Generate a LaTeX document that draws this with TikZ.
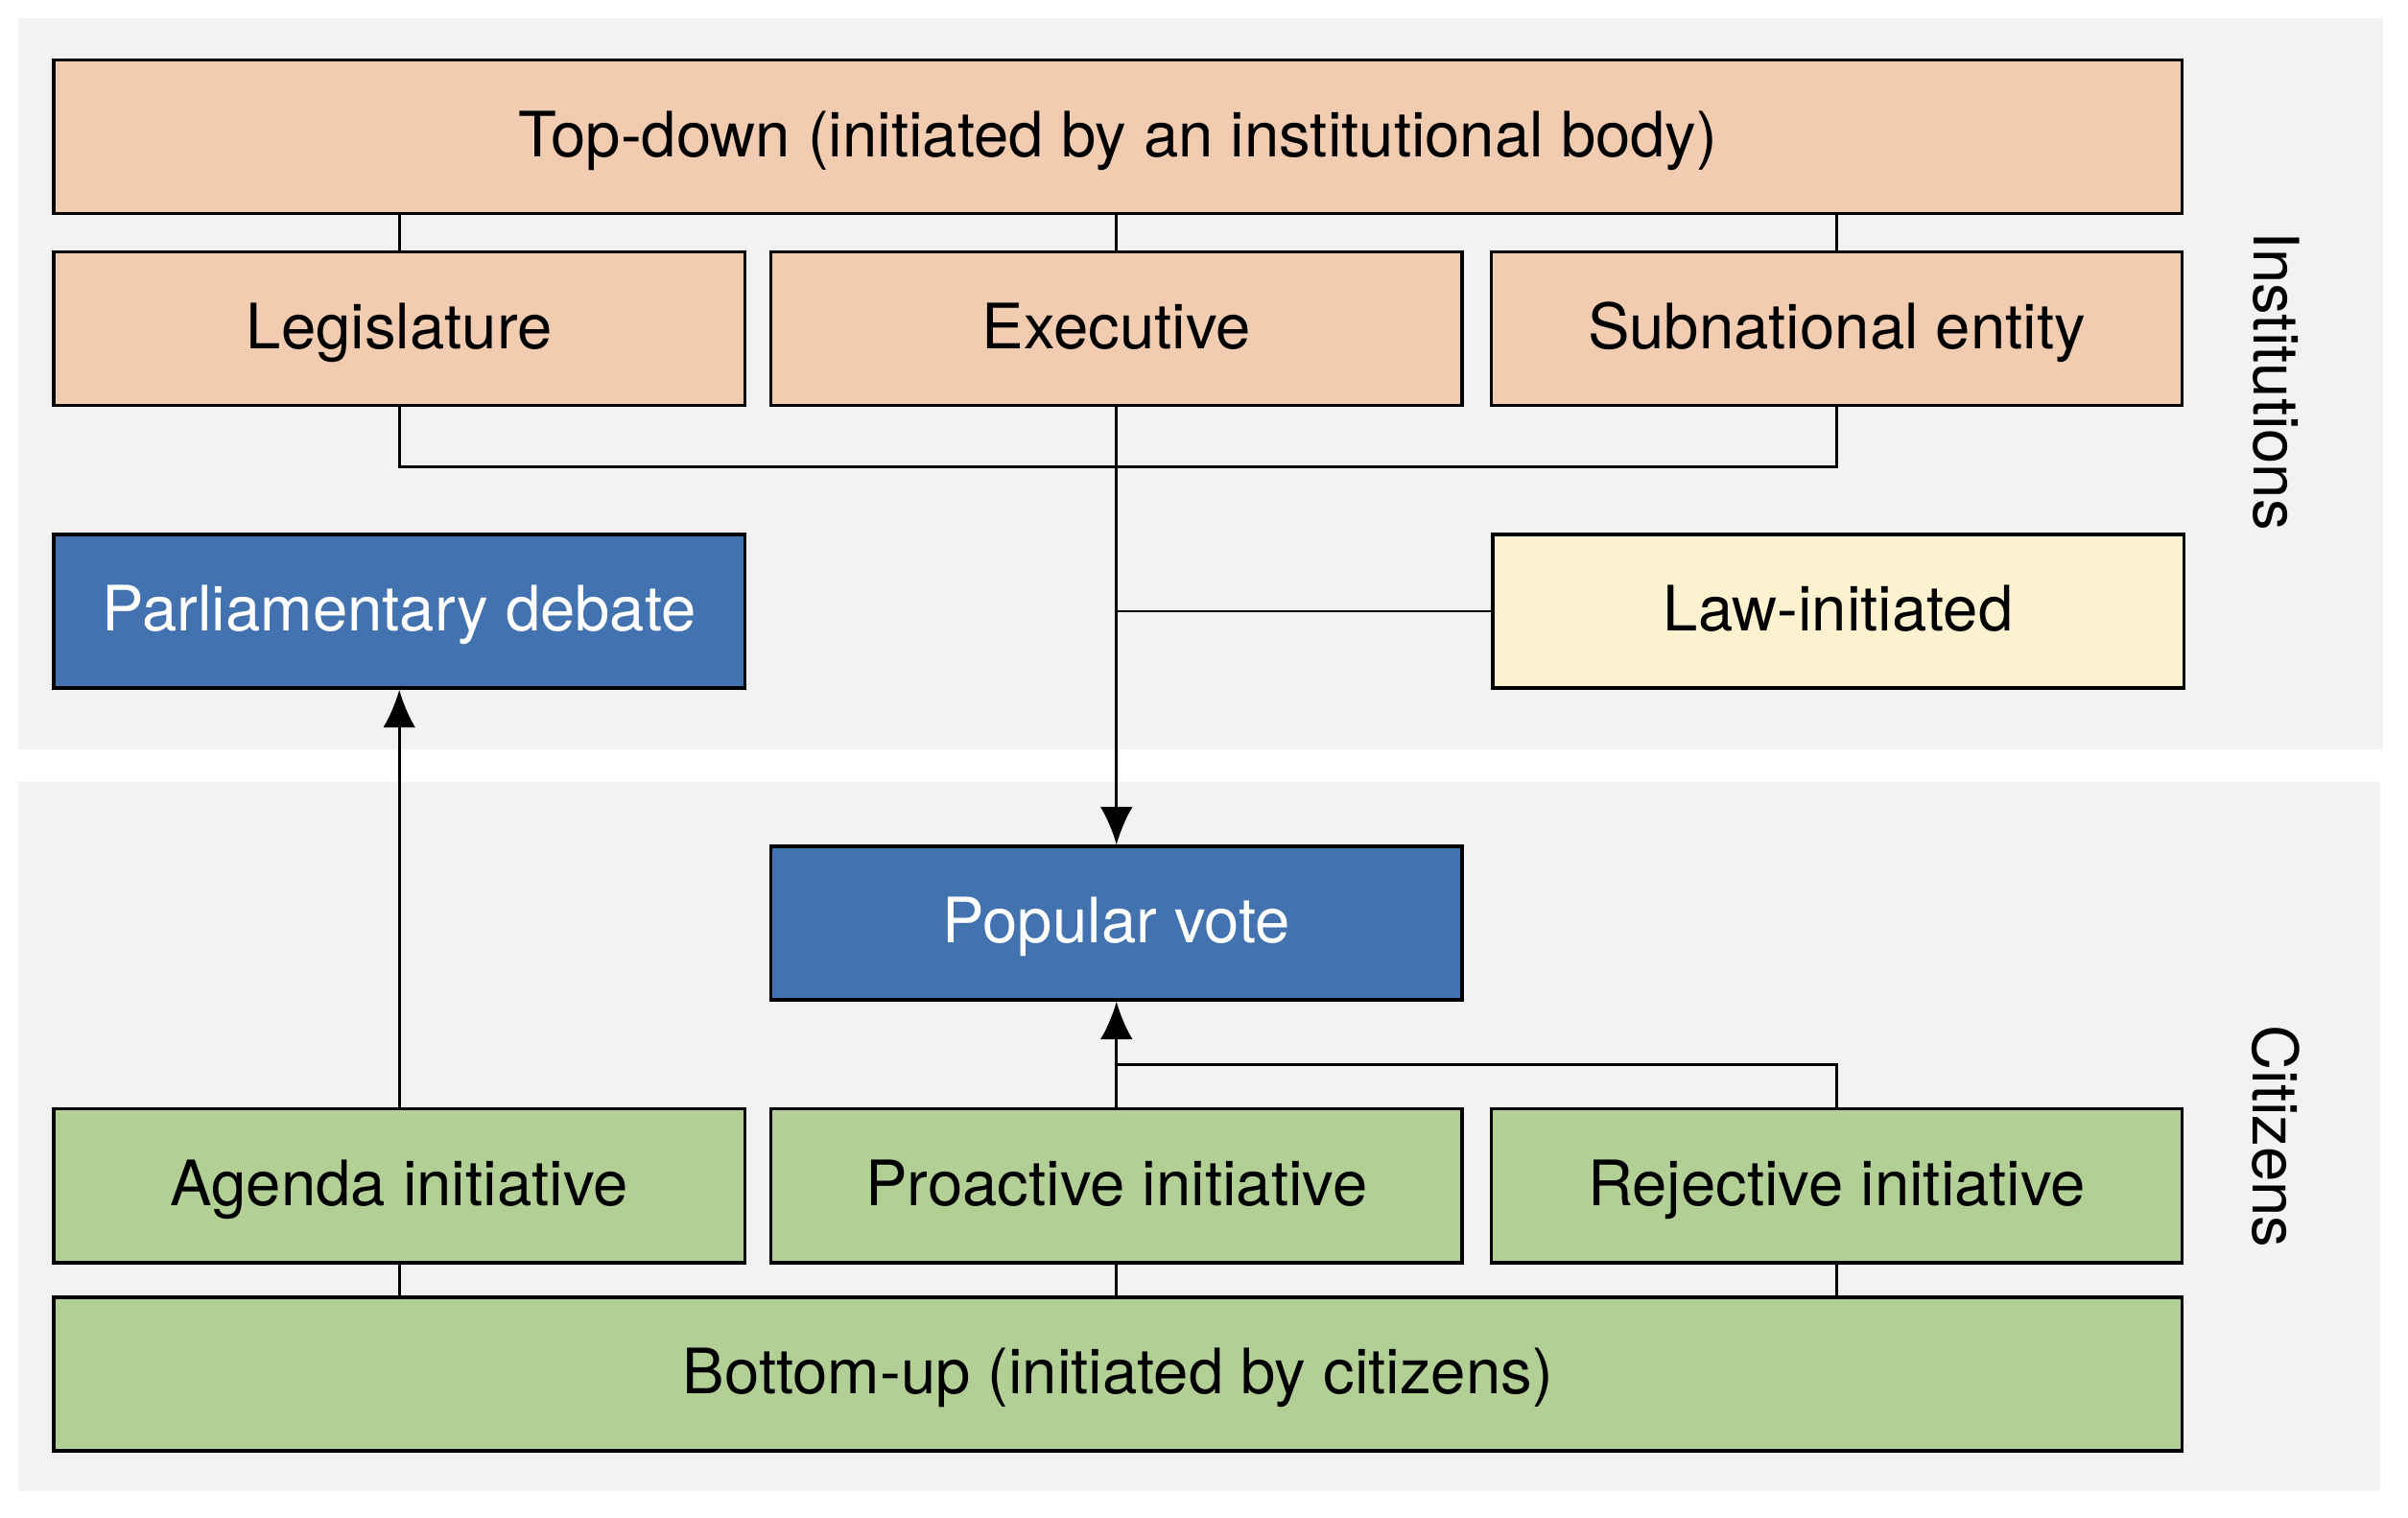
\documentclass[tikz,border=0pt]{standalone}
\usepackage{fontspec}
\setmainfont{TeX Gyre Heros}
\usetikzlibrary{arrows.meta}

\definecolor{peach}{RGB}{241,204,176}
\definecolor{votebl}{RGB}{66,115,176}
\definecolor{lawyel}{RGB}{253,242,208}
\definecolor{citgrn}{RGB}{178,208,149}
\definecolor{panelgr}{RGB}{242,242,242}

\begin{document}
\begin{tikzpicture}[
  box/.style={rectangle, draw, line width=0.6pt, minimum height=1cm,
              minimum width=4.5cm, inner sep=0pt, text height=0.96em,
              text depth=0.22em, font=\fontsize{11.6}{14}\selectfont},
  wide/.style={minimum width=13.86cm},
  inst/.style={box, fill=peach},
  vote/.style={box, fill=votebl, text=white},
  law/.style={box, fill=lawyel},
  cit/.style={box, fill=citgrn},
  conn/.style={line width=0.5pt},
  arr/.style={conn, -{Latex[length=7pt, width=6pt]}},
  side/.style={rotate=-90, font=\fontsize{11.6}{14}\selectfont}
]
  \useasboundingbox (0, 0) rectangle (15.68, 9.88);

  % Panels
  \fill[panelgr] (0.12, 5.00) rectangle (15.52, 9.76);
  \fill[panelgr] (0.12, 0.17) rectangle (15.50, 4.79);

  % Institutions
  \node[inst, wide] (topdown) at (7.28, 8.99) {Top-down (initiated by an institutional body)};
  \node[inst] (legis) at (2.60, 7.74) {Legislature};
  \node[inst] (exec) at (7.27, 7.74) {Executive};
  \node[inst] (subnat) at (11.96, 7.74) {Subnational entity};
  \node[vote] (parl) at (2.60, 5.90) {Parliamentary debate};
  \node[law] (lawinit) at (11.97, 5.90) {Law-initiated};

  % Citizens
  \node[vote] (popvote) at (7.27, 3.87) {Popular vote};
  \node[cit] (agenda) at (2.60, 2.16) {Agenda initiative};
  \node[cit] (proactive) at (7.27, 2.16) {Proactive initiative};
  \node[cit] (rejective) at (11.96, 2.16) {Rejective initiative};
  \node[cit, wide] (bottomup) at (7.28, 0.935) {Bottom-up (initiated by citizens)};

  \node[side] (instlbl) at (14.82, 7.40) {Institutions};
  \node[side] (citlbl) at (14.82, 2.48) {Citizens};

  \coordinate (split) at (7.27, 6.84);
  \coordinate (merge) at (7.27, 2.95);

  % Top-down links
  \draw[conn] (legis.north) -- (legis.north |- topdown.south);
  \draw[conn] (exec.north) -- (exec.north |- topdown.south);
  \draw[conn] (subnat.north) -- (subnat.north |- topdown.south);
  \draw[conn] (legis.south) |- (subnat.south |- split) -- (subnat.south);
  \draw[arr] (exec.south) -- (popvote.north);
  \draw[conn] (lawinit.west) -- (lawinit.west -| exec.south);

  % Bottom-up links
  \draw[arr] (agenda.north) -- (parl.south);
  \draw[arr] (proactive.north) -- (popvote.south);
  \draw[conn] (rejective.north) |- (merge);
  \draw[conn] (agenda.south) -- (agenda.south |- bottomup.north);
  \draw[conn] (proactive.south) -- (proactive.south |- bottomup.north);
  \draw[conn] (rejective.south) -- (rejective.south |- bottomup.north);
\end{tikzpicture}
\end{document}
